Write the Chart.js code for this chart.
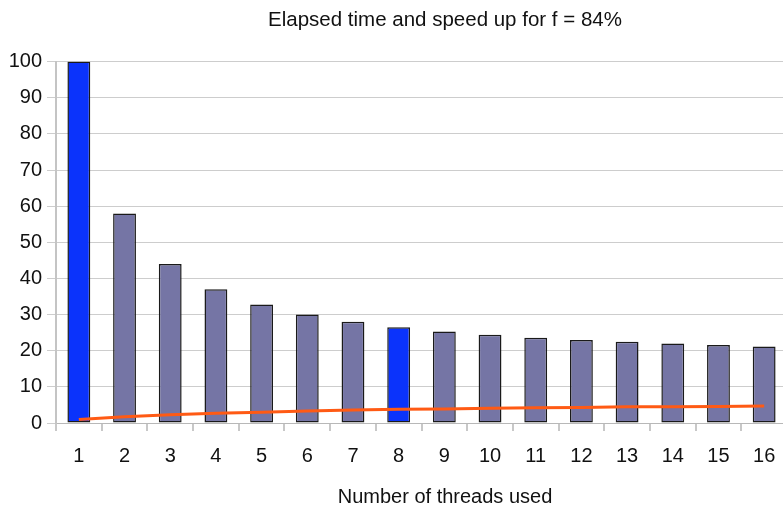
<!DOCTYPE html>
<html>
<head>
<meta charset="utf-8">
<script src="https://cdn.jsdelivr.net/npm/chart.js@4/dist/chart.umd.min.js"></script>
<style>
  html, body { margin: 0; padding: 0; background: #fff; overflow: hidden; }
  #wrap { width: 890px; height: 509px; }
</style>
</head>
<body>
<div id="wrap"><canvas id="amdahlChart"></canvas></div>
<script>
// threads used
const threads = ["1", "2", "3", "4", "5", "6", "7", "8", "9", "10", "11", "12", "13", "14", "15", "16"];
// elapsed time (% of single thread)
const elapsed = [100, 58, 44, 37, 32.8, 30, 28, 26.5, 25.3, 24.4, 23.6, 23, 22.5, 22, 21.6, 21.2];
// speed up
const speedup = [1, 1.7, 2.3, 2.7, 3.0, 3.3, 3.6, 3.8, 3.9, 4.1, 4.2, 4.3, 4.5, 4.5, 4.6, 4.7];
// threads whose bar is highlighted
const highlighted = ["1", "8"];

const yTicks = [0, 10, 20, 30, 40, 50, 60, 70, 80, 90, 100];

const font = { family: "'Liberation Sans', Arial, sans-serif", size: 20 };

const barColors = threads.map(t => highlighted.includes(t) ? "#0b33fb" : "#7575a5");

const ctx = document.getElementById("amdahlChart").getContext("2d");

new Chart(ctx, {
    type: "bar",
    data: {
        labels: threads,
        datasets: [{
            label: "Elapsed time",
            data: elapsed,
            backgroundColor: barColors,
            borderColor: "#1a1a1a",
            borderWidth: 1.5,
            borderSkipped: false,
            barPercentage: 0.5,
            categoryPercentage: 1,
            order: 1
        }, {
            type: "line",
            label: "Speed up",
            data: speedup,
            borderColor: "#ff5a14",
            borderWidth: 3,
            pointRadius: 0,
            tension: 0,
            order: 0
        }]
    },
    options: {
        responsive: true,
        maintainAspectRatio: false,
        animation: false,
        events: [],
        plugins: {
            legend: { display: false },
            tooltip: { enabled: false },
            title: {
                display: true,
                text: "Elapsed time and speed up for f = 84%",
                color: "#111",
                font: { family: font.family, size: 20.5, weight: "normal" },
                padding: { top: 8, bottom: 29 }
            },
            subtitle: {
                display: true,
                position: "bottom",
                text: "Number of threads used",
                color: "#111",
                font: { family: font.family, size: 20, weight: "normal" },
                padding: { top: 0, bottom: 0 }
            }
        },
        scales: {
            x: {
                offset: true,
                grid: {
                    offset: true,
                    drawOnChartArea: false,
                    drawTicks: true,
                    tickLength: 8,
                    color: "#c8c8c8",
                    lineWidth: 2
                },
                border: { display: true, color: "#b8b8b8", width: 1 },
                ticks: { color: "#111", font: font, padding: 13 },
                afterFit: scale => { scale.height = 62; }
            },
            y: {
                min: 0,
                max: 100,
                afterBuildTicks: scale => { scale.ticks = yTicks.map(v => ({ value: v })); },
                grid: {
                    color: "#cdcdcd",
                    lineWidth: 1,
                    tickLength: 9
                },
                border: { display: true, color: "#c4c4c4", width: 2 },
                ticks: { color: "#111", font: font, padding: 5 },
                afterFit: scale => { scale.width = 56; }
            },
            // empty space on the right, outside the window
            spare: {
                position: "right",
                display: true,
                grid: { display: false },
                border: { display: false },
                ticks: { display: false },
                afterFit: scale => { scale.width = 103; }
            }
        }
    }
});
</script>
</body>
</html>
